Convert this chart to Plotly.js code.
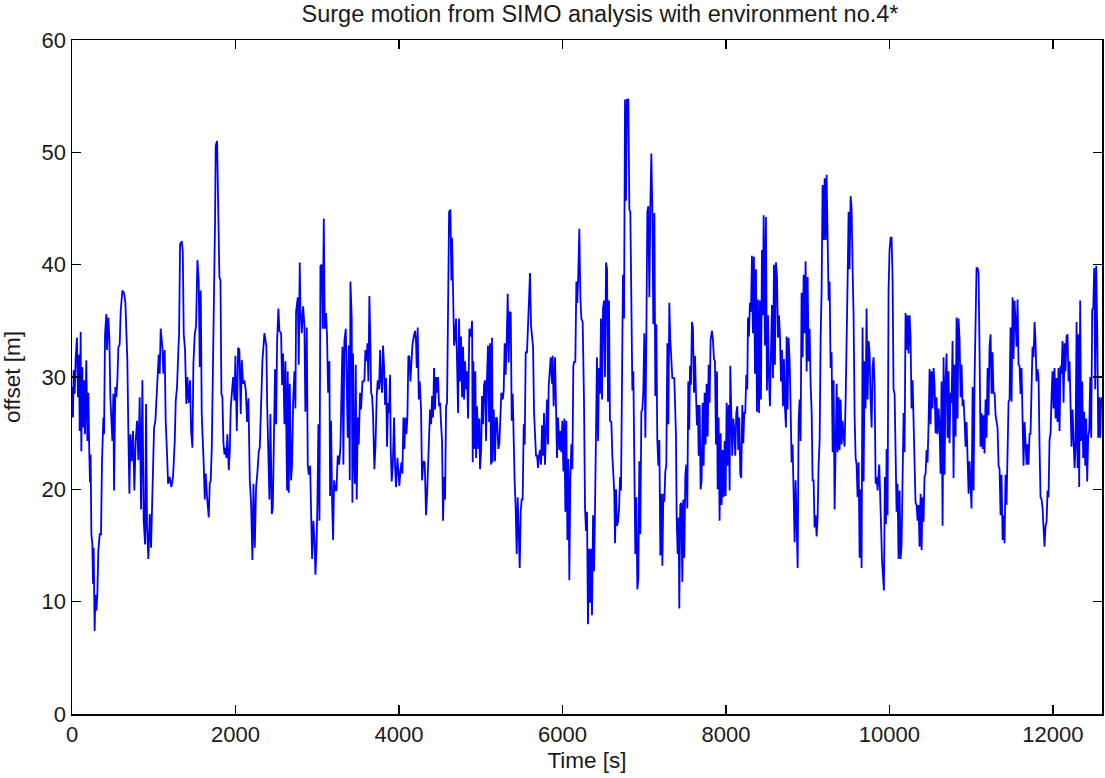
<!DOCTYPE html>
<html>
<head>
<meta charset="utf-8">
<script src="https://cdn.plot.ly/plotly-3.0.1.min.js"></script>
<style>
  html, body { margin: 0; padding: 0; background: #ffffff; }
  #chart { width: 1105px; height: 778px; }
</style>
</head>
<body>
<div id="chart"></div>
<script>
// Time [s] and surge offset [m], in five stretches
const timeA = [0,12,20,33,45,61,73,86,94,106,
  114,126,135,147,159,175,188,200,212,220,
  228,237,249,257,265,277,286,298,310,322,
  339,355,367,384,392,404,420,428,445,457,
  469,481,494,506,514,530,543,555,567,583,
  596,616,636,653,677,690,702,714,730,747,
  763,779,796,812,828,845,861,877,894,906,
  918,934,951,967,983,1004,1020,1032,1049,1061,
  1073,1085,1106,1118,1134,1146,1163,1175,1195,1216,
  1236,1257,1269,1285,1302,1310,1322,1342,1355,1367,
  1383,1399,1412,1428,1444,1457,1473,1485,1501,1518,
  1534,1550,1563,1575,1587,1599,1612,1624,1636,1652,
  1673,1685,1697,1710,1726,1738,1750,1758,1775,1787,
  1803,1816,1828,1840,1852,1865,1877,1889,1901,1918,
  1930,1942,1958,1971,1987,1999,2016,2032,2048,2064,
  2077,2093,2109,2126,2142,2158,2175,2191,2207,2220,
  2236,2252,2268,2285,2297,2313,2330];
const offsetA = [29.1,26.4,30.6,28.5,31.7,33.5,28.2,32,25.2,34,
  23.4,30.9,25.5,29.7,24.9,31.5,24.3,28.6,23.1,20.6,
  23.1,16,15.1,11.6,14.8,7.4,10.6,9.2,10.6,14.5,
  16,16,22.5,26.4,24.9,33.8,35.6,32.4,35.3,33.5,
  28.2,25.8,24.3,28.5,19.9,29.1,28.2,29.7,32.6,32.9,
  35.9,37.7,37.5,36.6,31.5,24.8,19.6,24.9,22.5,25.2,
  19.9,24.3,26.1,22.6,28.2,18.2,29.7,17.2,15.1,27.6,
  16.6,13.8,17.8,14.8,19.9,25.5,26.1,27.9,30,32,
  30.3,34.3,32.6,30.3,32.4,26.1,23.1,20.5,21.1,20.2,
  21.1,24.3,27.9,29.1,32.6,33.8,41.8,42.1,41.2,33.8,
  32.4,27.6,30,27.7,29.7,25.2,23.7,31.2,33.7,34.6,
  40.4,38.6,30.9,37.7,26.7,24.9,22.1,19.1,21.4,19.3,
  17.5,20.5,20.8,23.7,30.9,39.2,43.9,50.6,51,45.8,
  38.9,38.6,28.5,28.2,24.2,23.1,23.7,22.8,24.9,21.7,
  23.4,27.3,28.5,30,27.9,31.9,25.2,32.6,32.4,26.7,
  31.5,29.4,29.7,28.8,26,28.1,20.8,18.7,13.7,20.5,
  14.8,20.2,21.5,23.4,23.7,27,31.5];

const timeB = [2354,2366,2378,2387,2395,2415,2427,2444,2456,2468,
  2484,2497,2509,2525,2537,2558,2570,2582,2599,2611,
  2623,2631,2639,2652,2664,2680,2692,2705,2721,2733,
  2741,2762,2774,2786,2794,2811,2827,2843,2855,2872,
  2884,2896,2913,2925,2937,2953,2966,2978,2990,3002,
  3014,3027,3039,3055,3067,3080,3092,3108,3120,3133,
  3149,3157,3169,3182,3194,3206,3222,3235,3251,3267,
  3284,3296,3308,3320,3332,3349,3365,3373,3385,3398,
  3406,3422,3430,3438,3447,3459,3471,3483,3496,3508,
  3524,3536,3553,3565,3577,3589,3602,3614,3626,3638,
  3650,3659,3671,3683,3699,3712,3728,3740,3756,3769,
  3781,3793,3805,3818,3830,3842,3854,3867,3879,3891,
  3899,3911,3924,3940,3952,3964,3981,3993,4005,4017,
  4030,4042,4054,4066,4079,4091,4103,4115,4127,4140,
  4152,4164,4180,4197,4209,4217,4229,4242,4254,4270,
  4282,4299,4315,4331,4344,4356,4368,4380,4393,4405,
  4417,4429,4441,4454,4466,4478,4490,4503,4515,4527,
  4539,4551,4564,4576,4588,4600,4613,4629,4641,4649,
  4662,4674,4686,4698,4710,4723,4735,4747,4759,4772,
  4784,4796,4808,4821,4833,4845];
const offsetB = [33.9,33.2,32.7,27.7,24.7,19.1,26.7,17.8,18.3,22.4,
  30.7,25.8,33.2,36.1,34.1,33.9,29.3,32.1,25.8,31.4,
  23.3,19.9,30.5,19.7,29.4,20.8,22.2,27.8,30.5,27.2,
  35.8,37.1,31.1,40.2,36.1,33.9,36.3,34.6,26.9,34.4,
  22.2,21.3,22.1,17.4,13.8,17.2,15.5,12.4,14.6,18.6,
  25.8,17.2,39.9,40,34.3,44.1,34.3,35.7,33.6,28.6,
  31.4,19.4,26.1,18.8,15.5,20.8,19.9,19.9,23,22.2,
  23.8,28.5,32.7,22.2,33.2,34.3,28,24.6,32.8,20.8,
  38.5,35.2,18.8,32.1,24,20.5,31.1,19.1,26.4,24,
  28.6,27.1,29.6,29.6,29.7,32.4,31.4,33,29.6,37.2,
  33,28.6,28.3,26.6,21.8,23.8,28.3,29.7,28.9,32.4,
  29.6,28.6,32.8,30.8,27.5,29.9,23.8,27.7,26.8,30.2,
  23.6,20.7,22.1,26.4,22.1,20.2,22.8,20.8,20.3,21.6,
  22.4,21.4,26.4,23.6,26.4,24.9,26.4,31.9,31.8,29.6,
  32.1,32.8,33.6,34.1,33,30.8,34.4,28,29.6,27.1,
  20.8,22.5,22.4,17.7,19.6,22.2,25,27.1,25.8,28.3,
  26.4,30.8,27.1,30,28.6,30,27.4,27.7,25.8,24.3,
  17.2,21.1,19.1,27.4,27.7,35.8,44.7,44.9,38.6,42.4,
  37.5,32.8,33.6,35.2,31.4,26.8,35.2,29.6,33.6,28.2,
  32.7,28,31.4,28.9,30.5,26.3];

const timeC = [4861,4881,4894,4902,4910,4922,4934,4943,4955,4971,
  4983,4991,5004,5016,5028,5040,5053,5065,5077,5089,
  5102,5114,5126,5138,5146,5159,5175,5187,5199,5216,
  5228,5240,5252,5269,5281,5293,5305,5318,5330,5342,
  5354,5367,5379,5391,5403,5415,5428,5440,5452,5464,
  5477,5489,5501,5513,5526,5538,5550,5566,5579,5591,
  5603,5615,5628,5640,5652,5664,5676,5689,5701,5713,
  5725,5738,5750,5762,5774,5786,5799,5811,5823,5831,
  5844,5856,5872,5880,5892,5909,5921,5933,5945,5962,
  5974,5986,5998,6011,6023,6035,6047,6060,6072,6084,
  6096,6109,6121,6133,6145,6157,6170,6182,6194,6206,
  6219,6231,6247,6263,6276,6288,6300,6312,6325,6337,
  6349,6361,6374,6386,6398,6410,6422,6435,6447,6459,
  6471,6484,6496,6508,6520,6533,6545,6557,6569,6581,
  6598,6610,6622,6634,6643,6655,6667,6679,6692,6704,
  6716,6728,6740,6753,6765,6777,6789,6806,6818,6830,
  6842,6855,6867,6879,6891,6904,6916,6928,6940,6952,
  6965,6977,6989,7001,7014,7026,7038,7050,7063,7075,
  7087,7099,7111,7124,7136,7148,7160,7173,7185,7197,
  7209,7222,7234,7246,7258,7270,7283,7295,7307,7319,
  7332,7344];
const offsetC = [34.3,33.6,35,22.4,31.4,23.6,30.5,22.8,27.4,23.6,
  26.3,21.8,23.3,28.3,25.8,29.3,29.7,24.3,30,32.8,
  26,33,22.2,33.5,22.4,27.1,22.5,26.4,26.3,23.6,
  24.1,26.3,28.6,28,28.8,33,30.2,33.3,37.4,31.3,
  35.8,35.7,26.1,28.5,23,20.7,18.2,14.25,19.3,14.6,
  13,18,19.1,19.1,25.8,24,32.2,32.2,34.7,35.7,
  39.25,34.6,33.6,32.7,26.9,24.7,23,23,21.9,23,
  23.5,22.2,25.7,23,26.8,22.2,25.3,28,24,29.1,
  30.5,31.75,29.4,31.9,27.4,31.75,27.4,22.8,26.4,23.5,
  25.2,23.3,26.1,21.6,26.3,18,26.1,15.5,22.7,11.9,
  20.8,24,21.8,31,31.4,31.3,38.5,36.6,39.25,43.2,
  37.1,35.2,34.9,28,18.3,16.3,18,8,14.7,9.9,
  14.7,8.8,17.7,12.7,18.2,26.1,31.75,24.3,30.8,28.5,
  35.2,28,36.1,36.8,30,40.2,39.6,27.8,36.8,26.1,
  26,23,21.3,19.7,15.2,20,16.75,17.1,18.2,21.1,
  19.9,27.1,39.1,35.2,54.7,45.7,54.7,54.7,44.9,44.7,
  38.3,28.8,30.5,21.1,14.25,19.3,11.1,12.1,22.5,16,
  26.9,27.1,28.8,33.9,24.6,33.6,44.7,45.2,37.1,45.2,
  49.9,45,34.7,44.6,28.3,34.7,24.4,22.1,24.4,14.1,
  19.6,13.2,19.6,18.9,21.6,22.1,33,25.8,36.6,33.3,
  31.9,29.9];

const timeD = [7368,7388,7397,7409,7421,7429,7441,7454,7466,7478,
  7490,7503,7515,7527,7539,7551,7560,7572,7584,7596,
  7609,7621,7633,7645,7657,7666,7678,7690,7702,7715,
  7727,7739,7751,7763,7776,7788,7800,7812,7829,7841,
  7853,7865,7878,7890,7898,7910,7922,7935,7947,7959,
  7971,7984,7996,8008,8020,8033,8045,8053,8065,8077,
  8090,8102,8114,8126,8139,8151,8163,8175,8187,8200,
  8212,8224,8236,8249,8261,8269,8281,8293,8306,8318,
  8330,8342,8355,8367,8379,8391,8404,8416,8428,8440,
  8452,8461,8477,8489,8501,8514,8526,8538,8550,8563,
  8575,8587,8599,8611,8624,8636,8648,8660,8673,8685,
  8697,8709,8722,8734,8742,8754,8766,8779,8791,8803,
  8815,8828,8840,8852,8864,8877,8889,8901,8913,8925,
  8938,8950,8962,8974,8987,8999,9011,9023,9036,9048,
  9060,9072,9084,9097,9109,9121,9133,9146,9158,9170,
  9182,9195,9207,9219,9231,9243,9256,9268,9280,9292,
  9305,9317,9329,9341,9354,9366,9378,9390,9402,9415,
  9427,9439,9451,9464,9476,9488,9500,9512,9525,9537,
  9549,9561,9574,9586,9598,9610,9623,9635,9647,9659,
  9671,9684,9696,9708,9720,9733,9745,9757,9769,9782,
  9794,9806,9818,9831,9843,9855];
const offsetD = [29.9,24.9,17.4,14.25,17.5,9.4,18.6,18.8,11.75,19.1,
  13.9,21.3,22.2,18.3,29.6,25.3,31,29.3,34.9,34.4,
  28.6,31.9,28.6,25.7,27.5,23,27.5,20,20.8,27.7,
  22.1,28.6,24,29.4,24.7,31.1,27.7,33.3,34.1,33.3,
  31.6,31.4,24,30.5,20,26.4,17.2,25,18.6,23.5,
  19.3,24.3,19.4,27.7,22.1,27.5,19.9,31,26.8,23,
  26.3,25.2,23,26.8,27.4,23.5,26.4,21.4,21,27.5,
  24.1,26.8,26.8,30.2,28.9,35.3,33.6,36.6,35.8,40.8,
  33.9,40.7,30.3,39.6,26.9,36.9,26.8,36.8,28,41.3,
  35.5,44.4,32.8,44.25,28.8,35.5,29.9,27.4,32.1,36.4,
  29.9,40,31.1,40.2,38.9,33.5,35.5,33.9,29.6,32.4,
  27.4,31.6,27.2,25.5,33.6,27.1,33.5,31.4,27.2,22.4,
  24,19.3,15.3,20.8,15.8,13,26.1,28,24.3,37.5,
  31.75,39.1,33.9,40.3,30.5,38.9,31.4,34.3,29.3,26.9,
  20.8,20.8,16.6,17.7,15.8,17.5,22.1,24.4,33.5,37.7,
  47.1,42.2,47.7,42.2,48,43.3,36.8,38.5,30.8,32.2,
  23.3,29.7,18.2,23.5,29.4,23.3,28.2,23.5,28,24,
  26.1,24.7,23.8,28,32.2,38.6,44.7,39.6,46.1,45,
  39.7,35.5,26.4,22.8,22.2,19.3,22.4,13.9,20,13,
  34.4,20.7,31.4,27.2,36.1,28,33.2,32.2,28,25.5,
  31,31.75,29.3,20.5,21.1,19.9];

const timeE = [9875,9887,9899,9908,9920,9932,9944,9957,9965,9977,
  9989,10001,10014,10026,10038,10050,10063,10075,10087,10099,
  10111,10124,10136,10148,10160,10173,10185,10197,10209,10222,
  10234,10246,10258,10270,10283,10295,10307,10319,10332,10344,
  10356,10368,10381,10393,10405,10417,10429,10442,10454,10466,
  10478,10491,10503,10515,10527,10540,10552,10564,10576,10588,
  10601,10613,10625,10637,10650,10662,10674,10686,10699,10711,
  10723,10735,10747,10760,10772,10784,10796,10809,10821,10833,
  10845,10858,10870,10882,10894,10906,10919,10931,10943,10955,
  10968,10980,10992,11004,11017,11029,11041,11053,11065,11078,
  11090,11102,11114,11127,11139,11151,11163,11176,11188,11200,
  11212,11224,11237,11249,11261,11273,11286,11298,11310,11322,
  11335,11347,11359,11371,11384,11396,11408,11420,11432,11445,
  11457,11469,11481,11494,11506,11518,11530,11543,11555,11567,
  11579,11591,11604,11616,11628,11640,11653,11665,11677,11689,
  11701,11714,11726,11738,11750,11763,11775,11787,11799,11812,
  11824,11836,11848,11861,11873,11885,11897,11909,11922,11934,
  11946,11958,11971,11983,11995,12007,12019,12032,12044,12056,
  12068,12081,12093,12105,12117,12130,12142,12154,12166,12178,
  12191,12203,12215,12227,12240,12252,12264,12276,12289,12301,
  12313,12321,12333,12346,12358,12370,12382,12395,12407,12419,
  12431,12444,12456,12468,12480,12493,12505,12517,12529,12542,
  12554,12566,12578,12591];
const offsetE = [22.2,19.9,16.4,13.8,11.6,11,21.1,16.9,23.6,17.7,
  37.7,41.3,42.4,42.4,38.8,28.9,28.5,24,18,20.5,
  13.8,19.9,13.8,15,23.3,26.8,23.3,35.7,32.4,35.5,
  32.1,35.5,33.6,27.2,29.7,25.3,20.7,18.8,18.6,17.2,
  18.6,14.9,19.6,14.6,19.3,17.1,21.1,21.4,23.5,22.4,
  25.7,30.7,25.8,30.5,27.2,30.8,29.3,25,28.2,24.9,
  27.2,25.7,21.4,29.6,16.75,31.75,21.3,29.6,32.1,24.6,
  30.5,24.1,28.6,27.7,33.2,21,31.1,24.7,35.3,26.3,
  35.2,33.3,28.2,31.1,27.4,28,26.1,23.8,26,23.6,
  19.6,22.5,19.6,18.3,29.1,19.9,29.7,37.4,39.7,39.7,
  39.25,32.4,23.8,26.8,23.6,26.6,23.2,28,24.6,30.8,
  26.6,32.7,33.8,28.5,32.2,28.5,28.6,26.6,26.1,25.5,
  22.1,21.8,17.7,21.3,15.5,17.7,15.2,21.3,18.6,25,
  27.8,28,34.4,27.8,37.1,31.6,36.8,34.9,32.7,36.9,
  31.1,31,28.5,30.8,26,22.1,26,24,22.2,24,
  22.2,25,24.9,28.9,32.7,31.75,34.9,33.2,29.6,30.7,
  29.9,23.8,19.3,19.1,18.3,16.6,14.9,16.75,17.1,19.9,
  19.3,24.4,25,28.3,30.5,27.2,30.8,26.3,29.9,26,
  30.8,25.2,31,30.3,33.2,27.7,33,30.5,33.6,33.8,
  29.6,31.4,27.2,23.8,27.1,23,21.9,23.6,34.9,21.9,
  33.8,20.2,36.8,24.3,29.6,22.8,26.9,22.1,26.3,20.7,
  24.7,25.3,30,24.6,36,36.1,39.7,28.9,39.9,34.1,
  24.6,28.2,24.6,28.2];

const xTicks = [0, 2000, 4000, 6000, 8000, 10000, 12000];
const yTicks = [0, 10, 20, 30, 40, 50, 60];
const chartTitle = 'Surge motion from SIMO analysis with environment no.4*';
const xLabel = 'Time [s]';
const yLabel = 'offset [m]';

const timeSec = [].concat(timeA, timeB, timeC, timeD, timeE);
const offsetM = [].concat(offsetA, offsetB, offsetC, offsetD, offsetE);

const textFamily = 'Liberation Sans, Arial, sans-serif';
const tickFont = { family: textFamily, size: 22, color: '#1a1a1a' };

const axisCommon = {
  showgrid: false,
  zeroline: false,
  showline: true,
  linecolor: '#000000',
  linewidth: 1.5,
  mirror: 'ticks',
  ticks: 'inside',
  ticklen: 9,
  tickwidth: 1.5,
  tickcolor: '#000000',
  tickfont: tickFont
};

const trace = {
  type: 'scatter',
  mode: 'lines',
  x: timeSec,
  y: offsetM,
  line: { color: '#0000ff', width: 1.8 },
  hoverinfo: 'x+y'
};

const layout = {
  width: 1105,
  height: 778,
  paper_bgcolor: '#ffffff',
  plot_bgcolor: '#ffffff',
  showlegend: false,
  margin: { l: 72, r: 3, t: 40, b: 64, pad: 0 },
  title: {
    text: chartTitle,
    font: { family: textFamily, size: 23.5, color: '#1a1a1a' },
    x: 0.543, xref: 'container', xanchor: 'center',
    y: 1 - 14 / 778, yref: 'container', yanchor: 'middle'
  },
  xaxis: Object.assign({}, axisCommon, {
    range: [0, 12600],
    tickmode: 'array',
    tickvals: xTicks,
    ticktext: xTicks.map(String),
    title: { text: xLabel, font: { family: textFamily, size: 22.5, color: '#1a1a1a' }, standoff: 6 }
  }),
  yaxis: Object.assign({}, axisCommon, {
    range: [0, 60],
    tickmode: 'array',
    tickvals: yTicks,
    ticktext: yTicks.map(String),
    title: { text: yLabel, font: { family: textFamily, size: 22.5, color: '#1a1a1a' }, standoff: 14 }
  })
};

Plotly.newPlot('chart', [trace], layout, { displayModeBar: false, staticPlot: true });
</script>
</body>
</html>
